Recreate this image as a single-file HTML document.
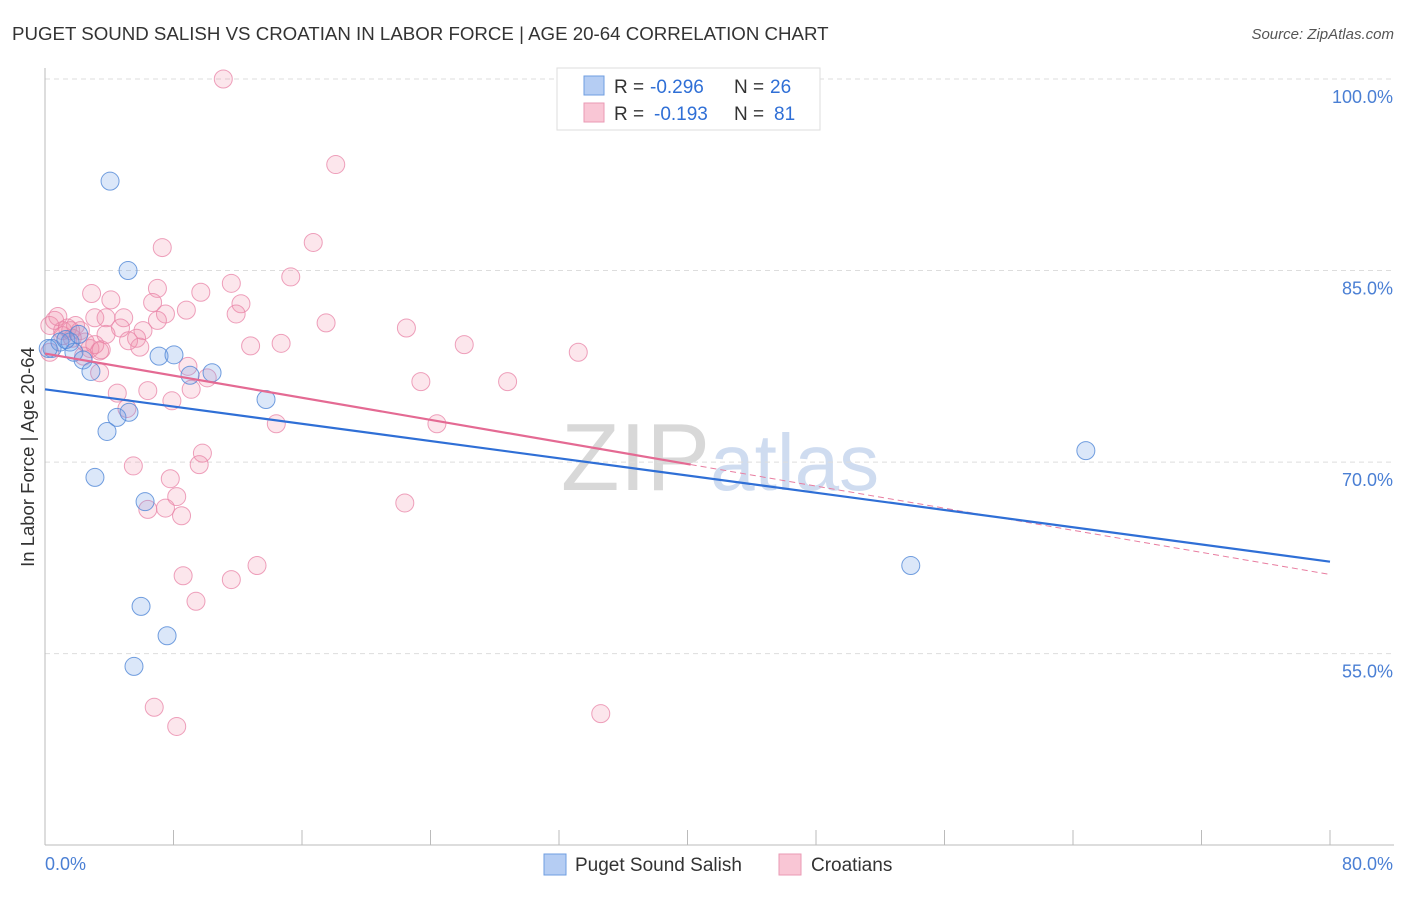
<!DOCTYPE html>
<html><head><meta charset="utf-8">
<style>
body{margin:0;background:#fff;font-family:"Liberation Sans",sans-serif;}
svg text{font-family:"Liberation Sans",sans-serif;}
</style></head>
<body>
<svg id="c" width="1406" height="892" xmlns="http://www.w3.org/2000/svg">
<text x="12" y="40" font-size="18.7" fill="#333">PUGET SOUND SALISH VS CROATIAN IN LABOR FORCE | AGE 20-64 CORRELATION CHART</text>
<text x="1394" y="39" font-size="15" fill="#555" font-style="italic" text-anchor="end">Source: ZipAtlas.com</text>
<text x="720" y="490" font-size="96" fill="#ddd" text-anchor="middle" font-family="Liberation Serif"><tspan fill="#d8d8d8">ZIP</tspan><tspan fill="#cfdcf0" font-family="Liberation Sans" font-size="80">atlas</tspan></text>
<g id="grid"></g>
<g id="axes"></g>
<g id="marks"></g>
<text transform="translate(34,457) rotate(-90)" font-size="18.5" fill="#333" text-anchor="middle">In Labor Force | Age 20-64</text>
<g>
<rect x="557" y="68" width="263" height="62" fill="#fff" stroke="#ddd"/>
<rect x="584" y="76" width="20" height="19" fill="#b5cdf3" stroke="#6f9ee0"/>
<rect x="584" y="103" width="20" height="19" fill="#f9c6d5" stroke="#ea9ab4"/>
<text x="614" y="93" font-size="19" fill="#333">R =</text>
<text x="650" y="93" font-size="19" fill="#2f6fd6">-0.296</text>
<text x="734" y="93" font-size="19" fill="#333">N =</text>
<text x="770" y="93" font-size="19" fill="#2f6fd6">26</text>
<text x="614" y="120" font-size="19" fill="#333">R =</text>
<text x="654" y="120" font-size="19" fill="#2f6fd6">-0.193</text>
<text x="734" y="120" font-size="19" fill="#333">N =</text>
<text x="774" y="120" font-size="19" fill="#2f6fd6">81</text>
</g>
<g>
<rect x="544" y="854" width="22" height="21" fill="#b5cdf3" stroke="#6f9ee0"/>
<text x="575" y="871" font-size="19" fill="#333">Puget Sound Salish</text>
<rect x="779" y="854" width="22" height="21" fill="#f9c6d5" stroke="#ea9ab4"/>
<text x="811" y="871" font-size="19" fill="#333">Croatians</text>
</g>
</svg>
<script>
const yTicks=[100,85,70,55];
const yTickLabels=["100.0%","85.0%","70.0%","55.0%"];
const xTickLabels=["0.0%","80.0%"];
const blueX=[4.05,5.17,0.44,0.93,1.56,1.8,2.37,2.86,7.1,8.03,9.03,10.4,13.76,4.48,5.23,3.86,3.11,6.23,5.98,7.6,5.54,64.8,53.9,0.2,1.3,2.1];
const blueY=[92.0,85.0,78.9,79.4,79.4,78.6,78.0,77.1,78.3,78.4,76.8,77.0,74.9,73.5,73.9,72.4,68.8,66.9,58.7,56.4,54.0,70.9,61.9,78.9,79.6,80.0];
const pinkX=[11.1,18.1,16.7,7.3,15.3,11.6,2.9,7.0,9.7,4.1,6.7,12.2,8.8,7.5,11.9,4.9,3.1,3.8,7.0,17.5,22.5,4.7,6.1,3.8,5.7,5.2,5.9,12.8,14.7,26.1,33.2,3.4,2.8,8.9,10.1,9.1,23.4,28.8,4.5,6.4,3.4,7.9,5.1,14.4,24.4,9.8,5.5,9.6,7.8,8.2,6.4,7.5,8.5,22.4,13.2,8.6,11.6,9.4,6.8,8.2,34.6,0.3,0.6,0.8,1.1,1.4,1.9,2.2,2.5,0.3,1.1,1.7,3.1,2.4,1.6,3.5];
const pinkY=[100,93.3,87.2,86.8,84.5,84.0,83.2,83.6,83.3,82.7,82.5,82.4,81.9,81.6,81.6,81.3,81.3,81.3,81.1,80.9,80.5,80.5,80.3,80.0,79.7,79.5,79.0,79.1,79.3,79.2,78.6,78.7,78.9,77.5,76.6,75.7,76.3,76.3,75.4,75.6,77.0,74.8,74.2,73.0,73.0,70.7,69.7,69.8,68.7,67.3,66.3,66.4,65.8,66.8,61.9,61.1,60.8,59.1,50.8,49.3,50.3,80.7,81.1,81.4,80.3,80.5,80.7,80.3,79.4,78.6,79.9,79.7,79.2,78.3,80.3,78.8];
const blueTrend=[75.7,62.2];
const pinkTrend=[78.5,61.2];
const pinkSolidEnd=40.2;
const NS="http://www.w3.org/2000/svg";
const xs=v=>45+v*(1285/80);
const ys=v=>79+(100-v)*12.77;
function mk(tag,attrs,parent){const e=document.createElementNS(NS,tag);for(const k in attrs)e.setAttribute(k,attrs[k]);document.getElementById(parent).appendChild(e);return e;}
yTicks.forEach((t,i)=>{
 const l=mk('line',{x1:45,x2:1394,y1:ys(t),y2:ys(t),stroke:'#ddd','stroke-dasharray':'5,4'},'grid');
 
 
 const tx=mk('text',{x:1393,y:ys(t)+24,'font-size':18,fill:'#4a7fd4','text-anchor':'end'},'grid');
 tx.textContent=yTickLabels[i];
 
 
});
const ya=mk('line',{x1:45,x2:45,y1:68,y2:845,stroke:'#bbb'},'axes');


const xa=mk('line',{x1:45,x2:1394,y1:845,y2:845,stroke:'#bbb'},'axes');


for(let i=0;i<=10;i++){
 const t=mk('line',{x1:xs(i*8),x2:xs(i*8),y1:830,y2:845,stroke:'#bbb'},'axes');
 
 
}
const xl0=mk('text',{x:45,y:870,'font-size':18,fill:'#4a7fd4'},'axes');xl0.textContent=xTickLabels[0];


const xl1=mk('text',{x:1393,y:870,'font-size':18,fill:'#4a7fd4','text-anchor':'end'},'axes');xl1.textContent=xTickLabels[1];


pinkX.forEach((x,i)=>{
 const c=mk('circle',{cx:xs(x),cy:ys(pinkY[i]),r:9,fill:'rgba(240,140,170,0.22)',stroke:'rgba(232,130,165,0.75)','stroke-width':1},'marks');
 
 
});
blueX.forEach((x,i)=>{
 const c=mk('circle',{cx:xs(x),cy:ys(blueY[i]),r:9,fill:'rgba(110,160,230,0.25)',stroke:'rgba(80,135,215,0.8)','stroke-width':1},'marks');
 
 
});
const pAt=v=>pinkTrend[0]+(pinkTrend[1]-pinkTrend[0])*v/80;
const pd=mk('line',{x1:xs(pinkSolidEnd),y1:ys(pAt(pinkSolidEnd)),x2:xs(80),y2:ys(pinkTrend[1]),stroke:'#e87da0','stroke-width':1,'stroke-dasharray':'6,4'},'marks');


const ps=mk('line',{x1:xs(0),y1:ys(pinkTrend[0]),x2:xs(pinkSolidEnd),y2:ys(pAt(pinkSolidEnd)),stroke:'#e46a93','stroke-width':2.2},'marks');


const bl=mk('line',{x1:xs(0),y1:ys(blueTrend[0]),x2:xs(80),y2:ys(blueTrend[1]),stroke:'#2f6fd6','stroke-width':2.2},'marks');


</script>
</body></html>
